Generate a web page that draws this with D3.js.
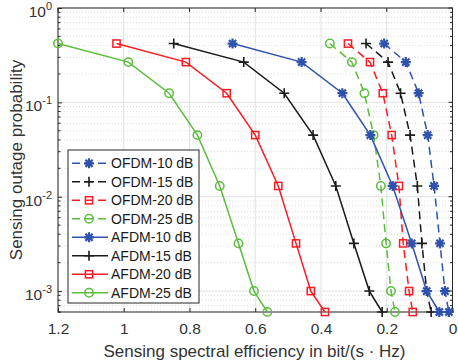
<!DOCTYPE html>
<html>
<head>
<meta charset="utf-8">
<script src="https://cdn.jsdelivr.net/npm/d3@7"></script>
<style>
  body { margin: 0; background: #fff; }
  svg { display: block; font-family: "Liberation Sans", Arial, sans-serif; }
</style>
</head>
<body>
<div id="chart"></div>
<script>
// outage probability levels (same for every curve)
var outage = [0.42, 0.267, 0.125, 0.045, 0.013, 0.0032, 0.001, 0.0006];

// spectral efficiency values per curve
var ofdm10 = [0.208, 0.142, 0.103, 0.0755, 0.056, 0.038, 0.023, 0.011];
var ofdm15 = [0.263, 0.196, 0.158, 0.129, 0.107, 0.093, 0.0785, 0.065];
var ofdm20 = [0.318, 0.251, 0.212, 0.185, 0.163, 0.150, 0.132, 0.121];
var ofdm25 = [0.373, 0.306, 0.268, 0.240, 0.218, 0.202, 0.187, 0.175];
var afdm10 = [0.669, 0.459, 0.335, 0.250, 0.182, 0.124, 0.0785, 0.040];
var afdm15 = [0.848, 0.635, 0.512, 0.424, 0.355, 0.300, 0.253, 0.214];
var afdm20 = [1.022, 0.811, 0.687, 0.600, 0.530, 0.476, 0.431, 0.388];
var afdm25 = [1.2, 0.986, 0.862, 0.776, 0.708, 0.651, 0.604, 0.563];

var seriesNames = ['OFDM-10 dB', 'OFDM-15 dB', 'OFDM-20 dB', 'OFDM-25 dB',
                   'AFDM-10 dB', 'AFDM-15 dB', 'AFDM-20 dB', 'AFDM-25 dB'];

var xTicks = [1.2, 1, 0.8, 0.6, 0.4, 0.2, 0];
var yTicks = [1e-3, 1e-2, 1e-1, 1];
var yTickExp = ['-3', '-2', '-1', '0'];

var colors = { b: '#2f52ad', k: '#1a1a1a', r: '#fa1c24', g: '#5cbd3c' };

var series = [
  { name: seriesNames[0], x: ofdm10, c: colors.b, m: 'star', dash: true },
  { name: seriesNames[1], x: ofdm15, c: colors.k, m: 'plus', dash: true },
  { name: seriesNames[2], x: ofdm20, c: colors.r, m: 'square', dash: true },
  { name: seriesNames[3], x: ofdm25, c: colors.g, m: 'circle', dash: true },
  { name: seriesNames[4], x: afdm10, c: colors.b, m: 'star', dash: false },
  { name: seriesNames[5], x: afdm15, c: colors.k, m: 'plus', dash: false },
  { name: seriesNames[6], x: afdm20, c: colors.r, m: 'square', dash: false },
  { name: seriesNames[7], x: afdm25, c: colors.g, m: 'circle', dash: false }
];

var W = 458, H = 362;
var margin = { top: 8, right: 5.5, bottom: 50, left: 58 };

var svg = d3.select('#chart').append('svg')
  .attr('width', W).attr('height', H);

var xScale = d3.scaleLinear().domain([1.2, 0]).range([margin.left, W - margin.right]);
var yScale = d3.scaleLog().domain([6e-4, 1]).range([H - margin.bottom, margin.top]);

var x0 = xScale.range()[0], x1 = xScale.range()[1];
var y0 = yScale.range()[0], y1 = yScale.range()[1];

// minor y grid (dotted)
var minor = [];
[-4, -3, -2, -1].forEach(function (e) {
  for (var k = 2; k <= 9; k++) {
    var v = k * Math.pow(10, e);
    if (v >= 6e-4 && v < 1) minor.push(v);
  }
});
minor.push(6e-4);
var grid = svg.append('g');
grid.selectAll('.ym').data(minor).enter().append('line')
  .attr('x1', x0).attr('x2', x1)
  .attr('y1', function (d) { return yScale(d); })
  .attr('y2', function (d) { return yScale(d); })
  .style('stroke', '#d4d4d4').style('stroke-width', 0.8)
  .style('stroke-dasharray', '1,2');

// major grid
grid.selectAll('.yM').data(yTicks).enter().append('line')
  .attr('x1', x0).attr('x2', x1)
  .attr('y1', function (d) { return yScale(d); })
  .attr('y2', function (d) { return yScale(d); })
  .style('stroke', '#e1e1e1').style('stroke-width', 1);
grid.selectAll('.xM').data(xTicks).enter().append('line')
  .attr('y1', y0).attr('y2', y1)
  .attr('x1', function (d) { return xScale(d); })
  .attr('x2', function (d) { return xScale(d); })
  .style('stroke', '#e1e1e1').style('stroke-width', 1);

// axes, MATLAB style ticks inward
var axisColor = '#262626';
var xAxis = svg.append('g').attr('transform', 'translate(0,' + y0 + ')')
  .call(d3.axisBottom(xScale).tickValues(xTicks).tickSizeInner(-4).tickSizeOuter(0)
    .tickFormat(function (d) { return d3.format('~g')(d); }));
xAxis.select('.domain').remove();
xAxis.selectAll('line').style('stroke', axisColor);
xAxis.selectAll('text').attr('dy', null).attr('y', 22)
  .style('font-size', '15.5px').style('fill', '#333');

var yAxis = svg.append('g').attr('transform', 'translate(' + x0 + ',0)')
  .call(d3.axisLeft(yScale).tickValues(yTicks).tickSizeInner(-4).tickSizeOuter(0)
    .tickFormat(''));
yAxis.select('.domain').remove();
yAxis.selectAll('line').style('stroke', axisColor);

// y tick labels with superscripts
var yl = svg.append('g');
yTicks.forEach(function (t, i) {
  var txt = yl.append('text')
    .attr('x', x0 - 6).attr('y', yScale(t) + 9)
    .attr('text-anchor', 'end')
    .style('font-size', '15.5px').style('fill', '#333');
  txt.append('tspan').text('10');
  txt.append('tspan').attr('dy', -7).style('font-size', '11px').text(yTickExp[i]);
});

// minor y ticks on both sides
var mt = svg.append('g');
mt.selectAll('.l').data(minor).enter().append('line')
  .attr('x1', x0).attr('x2', x0 + 2.5)
  .attr('y1', function (d) { return yScale(d); }).attr('y2', function (d) { return yScale(d); })
  .style('stroke', axisColor);
mt.selectAll('.r').data(minor).enter().append('line')
  .attr('x1', x1).attr('x2', x1 - 2.5)
  .attr('y1', function (d) { return yScale(d); }).attr('y2', function (d) { return yScale(d); })
  .style('stroke', axisColor);
mt.selectAll('.rM').data(yTicks).enter().append('line')
  .attr('x1', x1).attr('x2', x1 - 4)
  .attr('y1', function (d) { return yScale(d); }).attr('y2', function (d) { return yScale(d); })
  .style('stroke', axisColor);
mt.selectAll('.tM').data(xTicks).enter().append('line')
  .attr('y1', y1).attr('y2', y1 + 4)
  .attr('x1', function (d) { return xScale(d); }).attr('x2', function (d) { return xScale(d); })
  .style('stroke', axisColor);

// box
svg.append('rect')
  .attr('x', x0).attr('y', y1).attr('width', x1 - x0).attr('height', y0 - y1)
  .style('fill', 'none').style('stroke', axisColor).style('stroke-width', 1);

// markers
function drawMarker(g, type, cx, cy, color) {
  if (type === 'circle') {
    g.append('circle').attr('cx', cx).attr('cy', cy).attr('r', 4.2)
      .style('fill', 'none').style('stroke', color).style('stroke-width', 1.5);
  } else if (type === 'square') {
    g.append('rect').attr('x', cx - 3.6).attr('y', cy - 3.6).attr('width', 7.2).attr('height', 7.2)
      .style('fill', 'none').style('stroke', color).style('stroke-width', 1.5);
  } else if (type === 'plus') {
    g.append('path').attr('d', 'M' + (cx - 5) + ',' + cy + 'h10M' + cx + ',' + (cy - 5) + 'v10')
      .style('stroke', color).style('stroke-width', 1.6);
  } else {
    var r = 5, d = 3.6;
    g.append('path').attr('d',
      'M' + (cx - r) + ',' + cy + 'h' + (2 * r) +
      'M' + cx + ',' + (cy - r) + 'v' + (2 * r) +
      'M' + (cx - d) + ',' + (cy - d) + 'l' + (2 * d) + ',' + (2 * d) +
      'M' + (cx - d) + ',' + (cy + d) + 'l' + (2 * d) + ',' + (-2 * d))
      .style('stroke', color).style('stroke-width', 2.2);
    g.append('circle').attr('cx', cx).attr('cy', cy).attr('r', 2.4).style('fill', color);
  }
}

var line = d3.line()
  .x(function (d) { return xScale(d[0]); })
  .y(function (d) { return yScale(d[1]); });

var plot = svg.append('g');
series.forEach(function (s) {
  var pts = s.x.map(function (v, i) { return [v, outage[i]]; });
  plot.append('path')
    .attr('d', line(pts))
    .style('fill', 'none')
    .style('stroke', s.c)
    .style('stroke-width', 1.5)
    .style('stroke-dasharray', s.dash ? '8,5' : null);
  var mg = plot.append('g');
  pts.forEach(function (p) { drawMarker(mg, s.m, xScale(p[0]), yScale(p[1]), s.c); });
});

// legend
var lg = svg.append('g');
var lx = 68, ly = 150, lw = 131, lh = 153, step = 18.5;
lg.append('rect').attr('x', lx).attr('y', ly).attr('width', lw).attr('height', lh)
  .style('fill', '#fff').style('stroke', axisColor).style('stroke-width', 1);
series.forEach(function (s, i) {
  var cy = ly + 13.3 + i * step;
  lg.append('line').attr('x1', lx + 4).attr('x2', lx + 40).attr('y1', cy).attr('y2', cy)
    .style('stroke', s.c).style('stroke-width', 1.5)
    .style('stroke-dasharray', s.dash ? '8,5' : null);
  drawMarker(lg, s.m, lx + 21, cy, s.c);
  lg.append('text').attr('x', lx + 43).attr('y', cy + 5)
    .style('font-size', '14px').style('fill', '#1a1a1a').text(s.name);
});

// axis labels
svg.append('text')
  .attr('x', 254.5).attr('y', 357)
  .attr('text-anchor', 'middle')
  .style('font-size', '17px').style('fill', '#333')
  .text('Sensing spectral efficiency in bit/(s \u00b7 Hz)');
svg.append('text')
  .attr('transform', 'translate(22,' + ((y0 + y1) / 2) + ') rotate(-90)')
  .attr('text-anchor', 'middle')
  .style('font-size', '17px').style('fill', '#333')
  .text('Sensing outage probability');
</script>
</body>
</html>
